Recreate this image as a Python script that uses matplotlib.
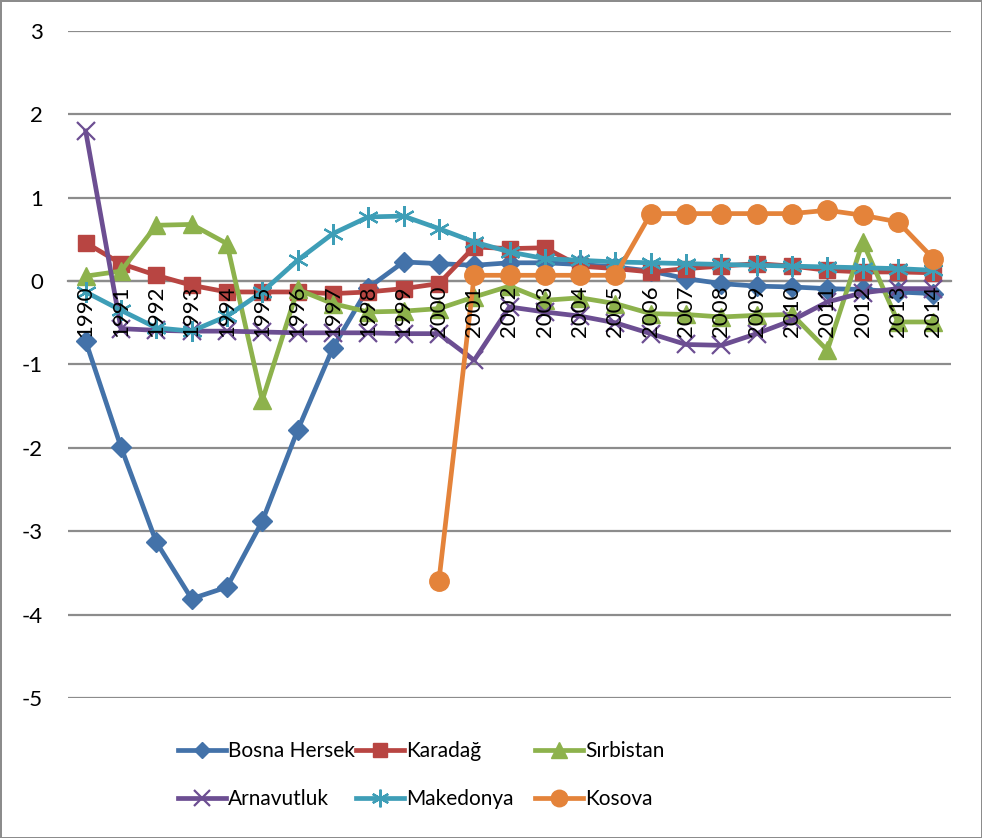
import matplotlib
matplotlib.use("Agg")
import matplotlib.pyplot as plt
import numpy as np

plt.rcParams['font.family'] = ['Lato', 'DejaVu Sans']

years = [str(y) for y in range(1990, 2015)]

bosna = [-0.72, -1.99, -3.13, -3.81, -3.67, -2.88, -1.79, -0.80, -0.08, 0.23,
         0.21, 0.19, 0.22, 0.22, 0.20, 0.17, 0.12, 0.03, -0.03, -0.06,
         -0.07, -0.09, -0.10, -0.13, -0.15]
karadag = [0.46, 0.21, 0.07, -0.05, -0.13, -0.13, -0.13, -0.15, -0.13, -0.09,
           -0.03, 0.41, 0.39, 0.40, 0.18, 0.15, 0.11, 0.15, 0.18, 0.21,
           0.18, 0.13, 0.11, 0.11, 0.10]
sirbistan = [0.06, 0.12, 0.67, 0.68, 0.45, -1.43, -0.10, -0.27, -0.37, -0.36,
             -0.33, -0.19, -0.06, -0.23, -0.20, -0.27, -0.39, -0.40, -0.43, -0.41,
             -0.40, -0.83, 0.47, -0.49, -0.49]
arnavutluk = [1.80, -0.57, -0.59, -0.60, -0.60, -0.61, -0.62, -0.62, -0.62, -0.63,
              -0.63, -0.95, -0.31, -0.37, -0.42, -0.50, -0.63, -0.76, -0.77, -0.63,
              -0.47, -0.25, -0.14, -0.09, -0.09]
makedonya = [-0.13, -0.35, -0.56, -0.60, -0.42, -0.13, 0.25, 0.57, 0.77, 0.78,
             0.63, 0.47, 0.35, 0.27, 0.25, 0.23, 0.22, 0.21, 0.20, 0.19,
             0.18, 0.17, 0.16, 0.15, 0.13]
kosova = [np.nan] * 10 + [-3.60, 0.07, 0.07, 0.07, 0.07, 0.07, 0.81, 0.81, 0.81, 0.81,
                          0.81, 0.85, 0.79, 0.71, 0.27]

names = ["Bosna Hersek", "Karadağ", "Sırbistan", "Arnavutluk", "Makedonya", "Kosova"]
y_ticks = [-5, -4, -3, -2, -1, 0, 1, 2, 3]

fig = plt.figure(figsize=(9.82, 8.38), dpi=100)
fig.patch.set_edgecolor('#8c8c8c')
fig.patch.set_linewidth(2)
ax = fig.add_axes([68/982, 1 - 698/838, (951-68)/982, (698-31)/838])

x = np.arange(len(years))
lw = 3.4
styles = [
    dict(color='#4372A9', marker='D', ms=10),
    dict(color='#B84542', marker='s', ms=12),
    dict(color='#8DB24C', marker='^', ms=13),
    dict(color='#6C4E92', marker='x', ms=13, mew=1.6),
    dict(color='#3E9EB7', marker=(6, 2, 0), ms=15, mew=1.6),
    dict(color='#E4833A', marker='o', ms=14),
]
series = [bosna, karadag, sirbistan, arnavutluk, makedonya, kosova]
handles = []
for s, name, st in zip(series, names, styles):
    h, = ax.plot(x, s, lw=lw, label=name, clip_on=False, **st)
    handles.append(h)

ax.set_xlim(-0.5, len(years) - 0.5)
ax.set_ylim(-5, 3)
ax.set_yticks(y_ticks)
ax.set_yticklabels([str(v) for v in y_ticks])
ax.yaxis.grid(True, color='#8c8c8c', lw=1.6)
ax.set_axisbelow(False)
ax.yaxis.set_zorder(0.5)
ax.xaxis.set_zorder(10)
for sp in ['left', 'right', 'top']:
    ax.spines[sp].set_visible(False)
ax.spines['bottom'].set_position(('data', 0))
ax.spines['bottom'].set_color('#8c8c8c')
ax.spines['bottom'].set_linewidth(1.6)
ax.spines['bottom'].set_zorder(0.5)
ax.set_xticks(x)
ax.set_xticklabels(years, rotation=90)
ax.tick_params(axis='x', length=0, pad=3, labelsize=16)
ax.tick_params(axis='y', length=0, pad=18, labelsize=16)
for lab in ax.get_yticklabels():
    lab.set_horizontalalignment('right')

col_x = [178, 356, 535]
cols = [[0, 3], [1, 4], [2, 5]]
for cx, idxs in zip(col_x, cols):
    leg = fig.legend([handles[i] for i in idxs], [names[i] for i in idxs],
                     ncol=1, loc='upper left', bbox_to_anchor=(cx/982, 1 - 741/838),
                     frameon=False, fontsize=15, handlelength=2.3, handletextpad=0.12,
                     labelspacing=1.35, borderpad=0.0, borderaxespad=0.0,
                     markerscale=0.85)

fig.savefig("out.png", dpi=100, edgecolor=fig.get_edgecolor())
